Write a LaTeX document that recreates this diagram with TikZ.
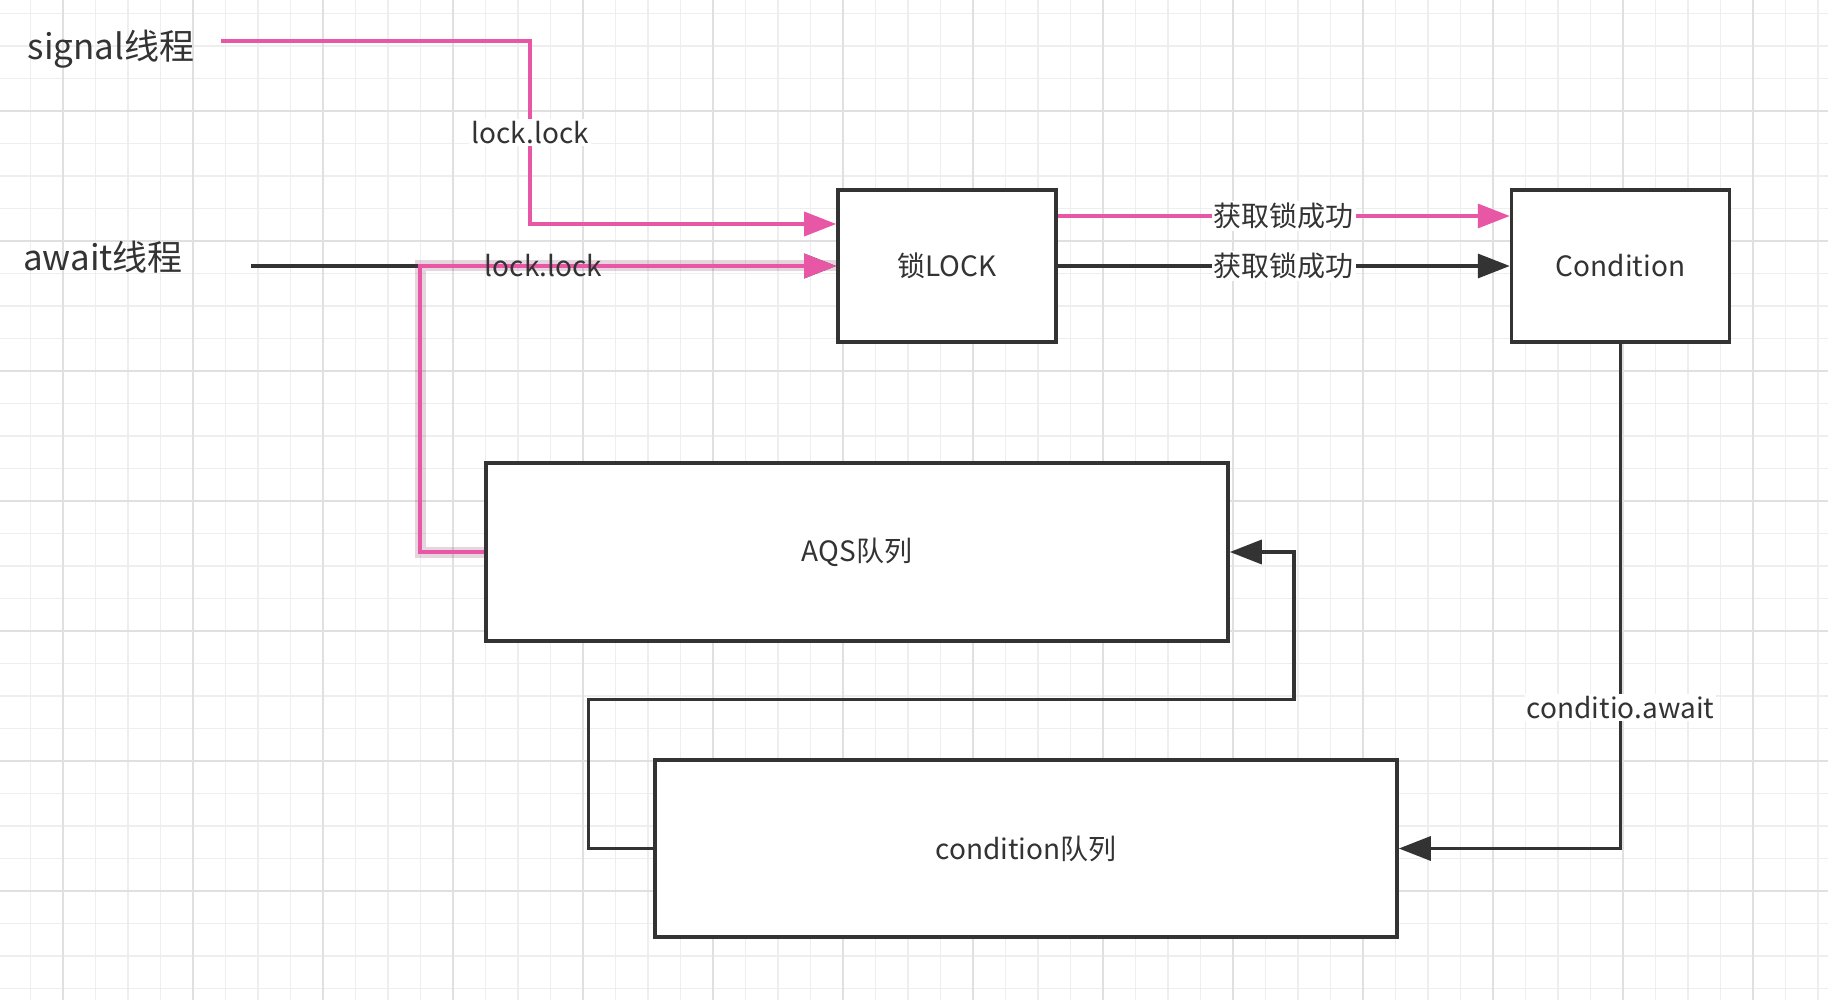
\documentclass[tikz,border=0pt]{standalone}
\usepackage{fontspec}
\setmainfont{Noto Sans CJK SC}
\usepackage{xcolor}
\usepackage{tikz}
\usetikzlibrary{arrows.meta,positioning,calc}
\definecolor{pinkline}{RGB}{232,87,165}
\definecolor{inkgray}{RGB}{51,51,51}
\definecolor{gridminor}{RGB}{238,238,238}
\definecolor{gridmajor}{RGB}{224,224,224}

\begin{document}
\begin{tikzpicture}[
    x=0.5pt, y=-0.5pt,
    box/.style={rectangle, draw=inkgray, line width=1.8pt, fill=white, text=inkgray, font=\fontsize{14}{17}\selectfont, inner sep=0pt},
    thread/.style={text=inkgray, font=\fontsize{17.5}{20}\selectfont, inner sep=0pt},
    lbl/.style={fill=white, text=inkgray, font=\fontsize{14}{16}\selectfont, inner sep=1pt},
    blackarrow/.style={-{Triangle[length=16pt, width=12pt]}, draw=inkgray, line width=1.7pt},
    pinkarrow/.style={-{Triangle[length=16pt, width=12pt]}, draw=pinkline, line width=1.7pt},
]
    % Background grid
    \useasboundingbox (0,0) rectangle (1828,1000);
    \fill[white] (0,0) rectangle (1828,1000);
    \begin{scope}
        \clip (0,0) rectangle (1828,1000);
        \foreach \i in {0,...,56} \draw[gridminor, line width=0.6pt] ({30.5+32.5*\i},0) -- ({30.5+32.5*\i},1000);
        \foreach \j in {0,...,30} \draw[gridminor, line width=0.6pt] (0,{13.5+32.5*\j}) -- (1828,{13.5+32.5*\j});
        \foreach \i in {0,...,13} \draw[gridmajor, line width=0.9pt] ({63+130*\i},0) -- ({63+130*\i},1000);
        \foreach \j in {0,...,7} \draw[gridmajor, line width=0.9pt] (0,{111+130*\j}) -- (1828,{111+130*\j});
    \end{scope}

    % Threads
    \node[thread] (sig) at (111,49) {signal线程};
    \node[thread] (await) at (103,257) {await线程};

    % Lock and condition
    \node[box, minimum width=109pt, minimum height=76pt] (lock) at (947,266) {锁LOCK};
    \node[box, minimum width=109pt, minimum height=76pt, right=226pt of lock] (cond) {Condition};

    % Queues
    \node[box, minimum width=371pt, minimum height=89pt] (aqs) at (857,552) {AQS队列};
    \node[box, minimum width=371pt, minimum height=88.5pt] (condq) at (1026,848.5) {condition队列};

    \coordinate (sigout) at (221,41);
    \coordinate (sigturn) at (530,41);
    \coordinate (awaitout) at (251,266);
    \coordinate (lockin) at ($(lock.west)+(0,-42)$);

    % Arrows
    \draw[pinkarrow] (sigout) -- (sigturn) -- node[lbl]{lock.lock} (sigturn |- lockin) -- (lockin);
    \draw[blackarrow] (awaitout) -- (lock.west);
    \draw[pinkarrow, line width=2pt, preaction={-, draw=pinkline!55!black, line width=5.5pt, opacity=0.2}] (aqs.west) -- ++(-64,0) |- (lock.west);
    \path (awaitout) -- node[text=inkgray, font=\fontsize{14}{17}\selectfont]{lock.lock} (lock.west);
    \draw[pinkarrow] ($(lock.east)+(0,-50)$) -- node[lbl]{获取锁成功} ($(cond.west)+(0,-50)$);
    \draw[blackarrow] (lock.east) -- node[lbl]{获取锁成功} (cond.west);
    \draw[blackarrow] (cond.south) |- node[lbl, pos=0.36]{conditio.await} (condq.east);
    \draw[blackarrow] (condq.west) -- ++(-65,0) -- ++(0,-149) -| ([xshift=32pt]aqs.east) -- (aqs.east);
\end{tikzpicture}
\end{document}
